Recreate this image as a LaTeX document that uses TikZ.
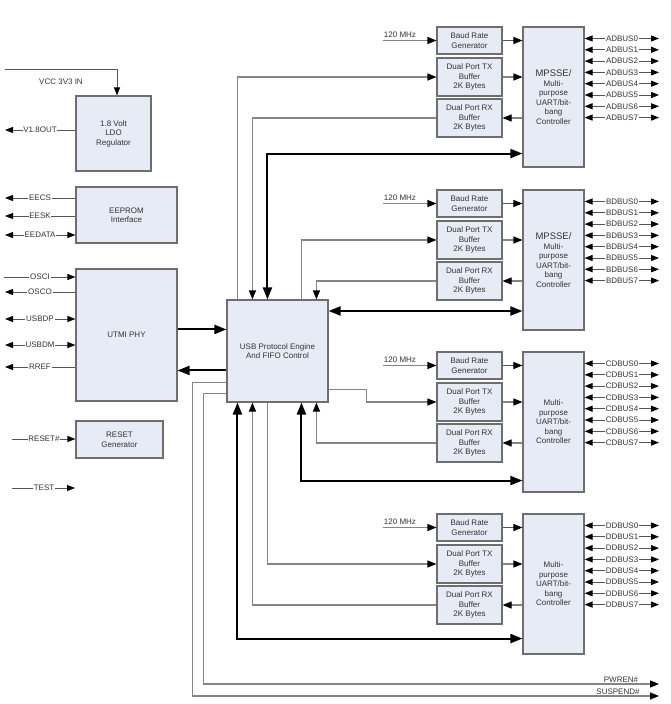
\documentclass[tikz,border=0pt]{standalone}
\usepackage{fontspec}
\setmainfont{Liberation Sans}
\usetikzlibrary{arrows.meta,calc}
\definecolor{boxfill}{HTML}{E6EBF5}
\definecolor{boxline}{HTML}{6E6E6E}
\definecolor{wirec}{HTML}{858585}
\definecolor{pinc}{HTML}{555555}
\definecolor{txt}{HTML}{333333}
\begin{document}
\begin{tikzpicture}[x=1pt,y=-1pt,
  font=\fontsize{8}{9.5}\selectfont,
  every node/.style={text=txt},
  blk/.style={draw=boxline, fill=boxfill, line width=1.1pt, align=center, inner sep=1pt},
  wire/.style={draw=wirec, line width=1.1pt},
  pinw/.style={draw=pinc, line width=1pt},
  bus/.style={draw=black, line width=2pt},
  wa/.style={-{Triangle[length=9pt,width=7pt,color=black]}},
  pa/.style={-{Triangle[length=8pt,width=6pt,color=black]}},
  pab/.style={{Triangle[length=8pt,width=6pt,color=black]}-{Triangle[length=8pt,width=6pt,color=black]}},
  ba/.style={-{Triangle[length=12pt,width=9pt]}},
  bab/.style={{Triangle[length=12pt,width=9pt]}-{Triangle[length=12pt,width=9pt]}},
  lbl/.style={fill=white, inner sep=0.8pt},
  plain/.style={inner sep=0.5pt}
]
\useasboundingbox (0,0) rectangle (671,704);

% ---------- left blocks ----------
\node[blk, minimum width=75pt, minimum height=75pt] (ldo) at (113.5,133.5) {1.8 Volt\\LDO\\Regulator};
\node[blk, minimum width=101pt, minimum height=56pt] (eep) at (126.5,215) {EEPROM\\Interface};
\node[blk, minimum width=101pt, minimum height=132pt] (phy) at (126.5,335) {UTMI PHY};
\node[blk, minimum width=87pt, minimum height=37pt] (rst) at (119.5,439.5) {RESET\\Generator};
\node[blk, minimum width=101pt, minimum height=102pt] (usb) at (277.5,351) {USB Protocol Engine\\And FIFO Control};

% ---------- channel blocks ----------
\foreach \ch/\T in {A/27, B/190, C/352, D/514} {
  \node[blk, minimum width=65pt, minimum height=27pt] (baud\ch) at (469.5,{\T+13.5}) {Baud Rate\\Generator};
  \node[blk, minimum width=65pt, minimum height=38pt] (tx\ch) at (469.5,{\T+50}) {Dual Port TX\\Buffer\\2K Bytes};
  \node[blk, minimum width=65pt, minimum height=38pt] (rx\ch) at (469.5,{\T+91}) {Dual Port RX\\Buffer\\2K Bytes};
}
\foreach \ch/\T in {A/27, B/190} {
  \node[blk, minimum width=61pt, minimum height=140pt] (ctl\ch) at (553.5,{\T+70})
    {{\fontsize{9.5}{11}\selectfont MPSSE/}\\Multi-\\purpose\\UART/bit-\\bang\\Controller};
}
\foreach \ch/\T in {C/352, D/514} {
  \node[blk, minimum width=61pt, minimum height=140pt] (ctl\ch) at (553.5,{\T+70})
    {Multi-\\purpose\\UART/bit-\\bang\\Controller};
}

% ---------- channel internal wires, clocks, bus pins ----------
\foreach \ch/\T/\pre in {A/27/AD, B/190/BD, C/352/CD, D/514/DD} {
  \coordinate (mhz\ch) at (383,{\T+13.5});
  \draw[wire, wa] (mhz\ch) -- (baud\ch.west);
  \node[plain] at (400,{\T+8}) {120 MHz};
  \draw[pinw, wa] (baud\ch.east) -- (baud\ch.east -| ctl\ch.west);
  \draw[wire, wa] (tx\ch.east) -- (tx\ch.east -| ctl\ch.west);
  \draw[wire, wa] (rx\ch.east -| ctl\ch.west) -- (rx\ch.east);
  \foreach \i in {0,...,7} {
    \coordinate (pin\ch\i) at (659,{\T+11.5+\i*11.3});
    \draw[pinw, pab] (pin\ch\i -| ctl\ch.east) -- (pin\ch\i);
    \node[lbl] at (622,{\T+11.5+\i*11.3}) {\pre BUS\i};
  }
}

% ---------- USB engine to channels ----------
% Channel A
\draw[wire, wa] ([xshift=11pt]usb.north west) |- (txA.west);
\draw[wire, wa] (rxA.west) -| ([xshift=26pt]usb.north west);
\coordinate (busA) at ([yshift=14pt]ctlA.south west);
\draw[bus, bab] ([xshift=41pt]usb.north west) |- (busA);
% Channel B
\draw[wire, wa] ([xshift=75pt]usb.north west) |- (txB.west);
\draw[wire, wa] (rxB.west) -| ([xshift=90pt]usb.north west);
\coordinate (busB) at ([yshift=40pt]usb.east);
\draw[bus, bab] (busB) -- (busB -| ctlB.west);
% Channel C
\coordinate (txCs) at ([yshift=-90pt]usb.north east);
\draw[wire, wa] (txCs) -- ++(38,0) |- (txC.west);
\draw[wire, wa] (rxC.west) -| ([xshift=90pt]usb.south west);
\coordinate (busC) at ([yshift=12pt]ctlC.south west);
\draw[bus, bab] (busC) -| ([xshift=75pt]usb.south west);
% Channel D
\draw[wire, wa] ([xshift=41pt]usb.south west) |- (txD.west);
\draw[wire, wa] (rxD.west) -| ([xshift=26pt]usb.south west);
\coordinate (busD) at ([yshift=16pt]ctlD.south west);
\draw[bus, bab] ([xshift=11pt]usb.south west) |- (busD);

% ---------- PHY <-> USB ----------
\coordinate (pu) at ([yshift=-61pt]phy.north east);
\draw[bus, ba] (pu) -- (pu -| usb.west);
\coordinate (up) at ([yshift=-102pt]phy.north east);
\draw[bus, ba] (up -| usb.west) -- (up);

% ---------- PWREN# / SUSPEND# ----------
\coordinate (pwren) at (659,684);
\coordinate (susp) at (659,696);
\draw[wire, wa] ([yshift=-94pt]usb.north west) -- ++(-23,0) |- (pwren);
\draw[wire, wa] ([yshift=-83pt]usb.north west) -- ++(-34,0) |- (susp);
\node[plain, anchor=south] at (621,683) {PWREN\#};
\node[plain, anchor=south] at (618,695) {SUSPEND\#};

% ---------- left pins ----------
\coordinate (vcc) at (5,69);
\draw[pinw, pa] (vcc) -| ([xshift=3.5pt]ldo.north);
\node[plain] at (61,82) {VCC 3V3 IN};

\coordinate (v18) at (5,130);
\draw[pinw, pa] (v18 -| ldo.west) -- (v18);
\node[lbl] at (40,130) {V1.8OUT};

\coordinate (eecs) at (5,198);
\draw[pinw, pa] (eecs -| eep.west) -- (eecs);
\node[lbl] at (40,198) {EECS};
\coordinate (eesk) at (5,216);
\draw[pinw, pa] (eesk -| eep.west) -- (eesk);
\node[lbl] at (40,216) {EESK};
\coordinate (eedata) at (5,235);
\draw[pinw, pab] (eedata) -- (eedata -| eep.west);
\node[lbl] at (40,235) {EEDATA};

\coordinate (osci) at (4,277);
\draw[pinw, pa] (osci) -- (osci -| phy.west);
\node[lbl] at (40,277) {OSCI};
\coordinate (osco) at (5,292);
\draw[pinw, pa] (osco -| phy.west) -- (osco);
\node[lbl] at (40,292) {OSCO};
\coordinate (usbdp) at (5,319);
\draw[pinw, pab] (usbdp) -- (usbdp -| phy.west);
\node[lbl] at (40,319) {USBDP};
\coordinate (usbdm) at (5,345);
\draw[pinw, pab] (usbdm) -- (usbdm -| phy.west);
\node[lbl] at (40,345) {USBDM};
\coordinate (rref) at (5,367);
\draw[pinw, pa] (rref -| phy.west) -- (rref);
\node[lbl] at (40,367) {RREF};

\coordinate (reset) at (12,439);
\draw[pinw, pa] (reset) -- (reset -| rst.west);
\node[lbl] at (44,439) {RESET\#};
\coordinate (test) at (12,488);
\coordinate (teste) at (75,488);
\draw[pinw, pa] (test) -- (teste);
\node[lbl] at (44,488) {TEST};
\end{tikzpicture}
\end{document}
